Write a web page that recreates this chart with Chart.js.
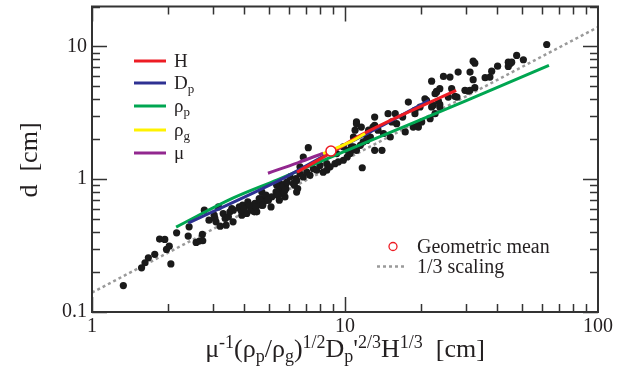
<!DOCTYPE html>
<html>
<head>
<meta charset="utf-8">
<script src="https://cdn.jsdelivr.net/npm/chart.js@4.4.1/dist/chart.umd.min.js"></script>
<style>
  html, body { margin: 0; padding: 0; background: #fff; }
</style>
</head>
<body>
<canvas id="scalingChart" width="626" height="369"></canvas>
<script>
const sampleX = [
  1.33, 1.57, 1.62, 1.67, 1.77, 1.85, 1.94, 1.97, 2.02, 2.05, 2.16, 2.42, 2.40, 2.73, 2.58, 2.66, 2.74, 2.78, 2.90, 3.04, 3.09, 3.06, 3.16,
  3.21, 3.30, 3.36, 3.39, 3.46, 3.51, 3.57, 3.61, 3.62, 3.85, 3.91, 3.96, 4.09, 4.28, 4.34, 4.41, 4.48, 4.69, 4.69, 4.69, 4.76, 4.98, 5.13, 5.37, 5.45, 5.53, 5.53, 5.62, 5.79, 5.85,
  3.82, 3.88, 3.94, 4.00, 4.13, 4.19, 4.25, 4.38, 4.45, 4.58, 4.66, 4.73, 4.87, 4.95, 5.10, 5.34, 5.42, 5.50, 5.75, 5.84, 6.31, 6.40, 6.50,
  5.70, 5.79, 5.89, 6.06, 6.25, 6.44, 6.44, 6.64, 6.64, 6.84, 6.84, 7.06, 7.16, 7.27, 7.50, 7.73, 7.96, 8.20, 8.47, 8.47, 8.73, 9.13, 9.27, 9.41, 9.85, 9.85, 10.2, 10.2, 10.47, 10.6, 10.96, 11.1,
  10.6, 10.8, 10.8, 11.1, 11.1, 11.5, 11.6, 11.7, 11.8, 12.2, 12.2, 12.4, 12.6, 12.9, 13.1, 13.1, 13.1, 13.5, 14.0, 14.2, 14.8, 15.1, 15.3, 15.8, 16.0, 16.9, 17.3, 17.8, 18.6, 18.9, 18.9, 19.4, 19.5, 19.8, 20.1, 20.7, 21.0, 21.7, 22.0, 22.7, 23.0, 23.7,
  22.0, 22.3, 22.7, 23.0, 23.4, 23.7, 23.7, 24.5, 25.6, 26.0, 26.4, 27.2, 27.7, 28.0, 29.8, 30.7, 31.2, 31.2, 32.1, 32.1, 32.6, 32.6, 35.8, 37.4, 38.0, 40.1, 44.2, 44.2, 44.9, 45.6, 47.7, 50.7, 62.7
];
const sampleY = [
  0.158, 0.215, 0.235, 0.256, 0.272, 0.354, 0.352, 0.296, 0.313, 0.230, 0.395, 0.438, 0.373, 0.384, 0.334, 0.342, 0.344, 0.585, 0.492, 0.536, 0.478, 0.507, 0.619,
  0.443, 0.552, 0.507, 0.451, 0.521, 0.568, 0.602, 0.478, 0.585, 0.602, 0.536, 0.568, 0.552, 0.619, 0.585, 0.657, 0.568, 0.638, 0.716, 0.803, 0.675, 0.695, 0.736, 0.901, 0.803, 0.851, 0.928, 0.781, 0.736, 0.928,
  0.619, 0.585, 0.638, 0.602, 0.675, 0.638, 0.585, 0.568, 0.619, 0.716, 0.675, 0.638, 0.758, 0.695, 0.619, 0.803, 0.758, 0.695, 0.803, 0.851, 0.901, 1.01, 0.851,
  0.90, 0.83, 0.95, 1.04, 0.93, 0.98, 0.80, 1.10, 1.24, 1.04, 1.47, 1.13, 1.73, 1.07, 1.20, 1.17, 1.27, 1.13, 1.31, 1.17, 1.24, 1.31, 1.56, 1.35, 1.75, 1.39, 1.65, 1.47, 1.56, 1.75, 2.34, 2.62,
  1.65, 1.75, 2.08, 1.65, 2.70, 1.80, 2.47, 1.22, 1.91, 1.96, 2.02, 2.34, 2.08, 2.47, 2.94, 2.55, 1.65, 2.34, 1.65, 2.21, 3.12, 2.08, 2.70, 3.12, 2.62, 2.94, 2.27, 3.81, 2.47, 3.12, 3.30, 2.55, 2.47, 3.50, 2.70, 4.04, 3.93, 2.86, 5.48, 3.12, 4.53, 3.50,
  3.50, 3.60, 4.41, 4.59, 3.88, 3.66, 4.81, 5.95, 4.16, 5.88, 4.81, 4.21, 4.16, 6.41, 4.67, 4.61, 4.67, 6.41, 5.62, 7.75, 4.89, 7.49, 5.82, 5.88, 6.52, 7.11, 7.62, 7.07, 7.41, 7.62, 8.56, 7.94, 10.35
];

// parameter sweeps through the geometric mean
const hX = [6.46, 9.0, 11.5, 16.5, 27.5];
const hY = [1.13, 1.62, 2.14, 3.0, 4.67];
const dpX = [2.4, 5.5, 8.8, 12.2, 21.5];
const dpY = [0.467, 0.98, 1.6, 2.2, 3.93];
const rhopX = [2.15, 3.6, 5.4, 8.8, 16.5, 30, 64];
const rhopY = [0.436, 0.72, 0.99, 1.47, 2.42, 3.9, 7.2];
const rhogX = [8.2, 10.5, 12.0];
const rhogY = [1.56, 1.91, 2.21];
const muX = [4.96, 6.5, 8.2];
const muY = [1.11, 1.33, 1.57];

const meanX = [8.8];
const meanY = [1.63];

// 1/3 scaling reference line
const fitX = [1, 100];
const fitY = [0.14, 14];

const xTickLabels = [1, 10, 100];
const yTickLabels = [0.1, 1, 10];

const lineNames = [['H', ''], ['D', 'p'], ['ρ', 'p'], ['ρ', 'g'], ['μ', '']];
const lineColors = ['#ed1c24', '#2e3192', '#00a651', '#fff200', '#92278f'];

const serif = '"Liberation Serif", "DejaVu Serif", serif';
const ink = '#231f20';

function pts(xs, ys) {
  return xs.map((x, i) => ({ x: x, y: ys[i] }));
}

function curve(label, xs, ys, color) {
  return {
    type: 'line', label: label, data: pts(xs, ys),
    borderColor: color, borderWidth: 3, pointRadius: 0,
    tension: 0.35, fill: false
  };
}

// text with super/subscripts: parts = [text, 0 | 1 (sup) | -1 (sub)]
function richWidth(ctx, parts, size) {
  let w = 0;
  parts.forEach(p => {
    ctx.font = (p[1] ? Math.round(size * 0.68) : size) + 'px ' + serif;
    w += ctx.measureText(p[0]).width;
  });
  return w;
}

function drawRich(ctx, parts, x, y, size) {
  ctx.textAlign = 'left';
  ctx.textBaseline = 'alphabetic';
  let cx = x;
  parts.forEach(p => {
    ctx.font = (p[1] ? Math.round(size * 0.68) : size) + 'px ' + serif;
    const dy = p[1] === 1 ? -size * 0.36 : (p[1] === -1 ? size * 0.2 : 0);
    ctx.fillText(p[0], cx, y + dy);
    cx += ctx.measureText(p[0]).width;
  });
}

function tickValues(lo, hi) {
  const out = [];
  for (let d = lo; d < hi; d *= 10) {
    for (let k = 1; k <= 9; k++) {
      const v = +(k * d).toPrecision(3);
      if (v <= hi) out.push(v);
    }
  }
  return out;
}

const decorations = {
  id: 'decorations',
  afterDraw(chart) {
    const ctx = chart.ctx;
    const a = chart.chartArea;
    const xs = chart.scales.x, ys = chart.scales.y;
    ctx.save();

    // inward ticks on all four sides
    ctx.strokeStyle = '#333';
    ctx.lineWidth = 1.5;
    ctx.beginPath();
    tickValues(1, 100).forEach(v => {
      const px = Math.round(xs.getPixelForValue(v)) + 0.5;
      const len = xTickLabels.includes(v) ? 15 : 8;
      ctx.moveTo(px, a.bottom); ctx.lineTo(px, a.bottom - len);
      ctx.moveTo(px, a.top); ctx.lineTo(px, a.top + len);
    });
    tickValues(0.1, 20).forEach(v => {
      const py = Math.round(ys.getPixelForValue(v)) + 0.5;
      const len = yTickLabels.includes(v) ? 15 : 8;
      ctx.moveTo(a.left, py); ctx.lineTo(a.left + len, py);
      ctx.moveTo(a.right, py); ctx.lineTo(a.right - len, py);
    });
    ctx.stroke();

    ctx.lineWidth = 2;
    ctx.strokeStyle = '#333';
    ctx.strokeRect(a.left, a.top, a.right - a.left, a.bottom - a.top);

    ctx.fillStyle = ink;

    // axis titles
    const xTitle = [['μ', 0], ['-1', 1], ['(ρ', 0], ['p', -1], ['/ρ', 0], ['g', -1], [')', 0], ['1/2', 1],
      ['D', 0], ['p', -1], ["'", 0], ['2/3', 1], ['H', 0], ['1/3', 1], ['  [cm]', 0]];
    const w = richWidth(ctx, xTitle, 26);
    drawRich(ctx, xTitle, 345 - w / 2, 357, 26);

    ctx.save();
    ctx.translate(37, 160);
    ctx.rotate(-Math.PI / 2);
    ctx.font = '26px ' + serif;
    ctx.textAlign = 'center';
    ctx.textBaseline = 'alphabetic';
    ctx.fillText('d  [cm]', 0, 0);
    ctx.restore();

    // legend for the sweeps
    const rows = [61, 83, 106, 130, 153];
    lineNames.forEach((n, i) => {
      ctx.strokeStyle = lineColors[i];
      ctx.lineWidth = 3;
      ctx.beginPath();
      ctx.moveTo(134, rows[i]); ctx.lineTo(166, rows[i]);
      ctx.stroke();
      ctx.fillStyle = ink;
      drawRich(ctx, [[n[0], 0], [n[1], -1]], 174, rows[i] + 6, 19);
    });

    // legend for mean and scaling line
    ctx.strokeStyle = '#ed1c24';
    ctx.lineWidth = 1.3;
    ctx.beginPath();
    ctx.arc(393, 246.5, 4, 0, Math.PI * 2);
    ctx.stroke();
    ctx.strokeStyle = '#9a9a9a';
    ctx.lineWidth = 2.5;
    ctx.setLineDash([3, 3]);
    ctx.beginPath();
    ctx.moveTo(377, 266.5); ctx.lineTo(407, 266.5);
    ctx.stroke();
    ctx.setLineDash([]);
    ctx.fillStyle = ink;
    drawRich(ctx, [['Geometric mean', 0]], 417, 253, 20);
    drawRich(ctx, [['1/3 scaling', 0]], 417, 273, 20);

    ctx.restore();
  }
};

let chart;

window.onload = function () {
  const ctx = document.getElementById('scalingChart').getContext('2d');
  chart = new Chart(ctx, {
    type: 'scatter',
    data: {
      datasets: [
        {
          label: 'Geometric mean', data: pts(meanX, meanY),
          pointRadius: 5, pointBackgroundColor: '#fff', pointBorderColor: '#ed1c24',
          pointBorderWidth: 1.5, order: 0
        },
        Object.assign(curve('ρg', rhogX, rhogY, lineColors[3]), { order: 1 }),
        Object.assign(curve('μ', muX, muY, lineColors[4]), { order: 2 }),
        Object.assign(curve('H', hX, hY, lineColors[0]), { order: 3 }),
        Object.assign(curve('Dp', dpX, dpY, lineColors[1]), { order: 4 }),
        Object.assign(curve('ρp', rhopX, rhopY, lineColors[2]), { order: 5 }),
        {
          label: 'data', data: pts(sampleX, sampleY),
          pointRadius: 3.6, pointBackgroundColor: '#1a1a1a', pointBorderWidth: 0, order: 6
        },
        {
          type: 'line', label: '1/3 scaling', data: pts(fitX, fitY),
          borderColor: '#9a9a9a', borderWidth: 2.5, borderDash: [3, 3],
          pointRadius: 0, fill: false, order: 7
        }
      ]
    },
    options: {
      responsive: false,
      animation: false,
      devicePixelRatio: 1,
      layout: { padding: { top: 6, right: 28, left: 0, bottom: 0 } },
      plugins: { legend: { display: false }, tooltip: { enabled: false } },
      scales: {
        x: {
          type: 'logarithmic', min: 1, max: 100,
          grid: { display: false, drawTicks: false },
          border: { display: false },
          ticks: {
            font: { family: serif, size: 20 }, color: ink, padding: 3,
            maxRotation: 0, autoSkip: false,
            callback: v => String(v)
          },
          afterBuildTicks: s => { s.ticks = xTickLabels.map(v => ({ value: v })); },
          afterFit: s => { s.height = 57; s.paddingLeft = 0; s.paddingRight = 0; }
        },
        y: {
          type: 'logarithmic', min: 0.1, max: 20,
          grid: { display: false, drawTicks: false },
          border: { display: false },
          ticks: {
            font: { family: serif, size: 20 }, color: ink, padding: 5,
            autoSkip: false,
            callback: v => String(v)
          },
          afterBuildTicks: s => { s.ticks = yTickLabels.map(v => ({ value: v })); },
          afterFit: s => { s.width = 92; s.paddingTop = 0; s.paddingBottom = 0; }
        }
      }
    },
    plugins: [decorations]
  });
};
</script>
</body>
</html>
